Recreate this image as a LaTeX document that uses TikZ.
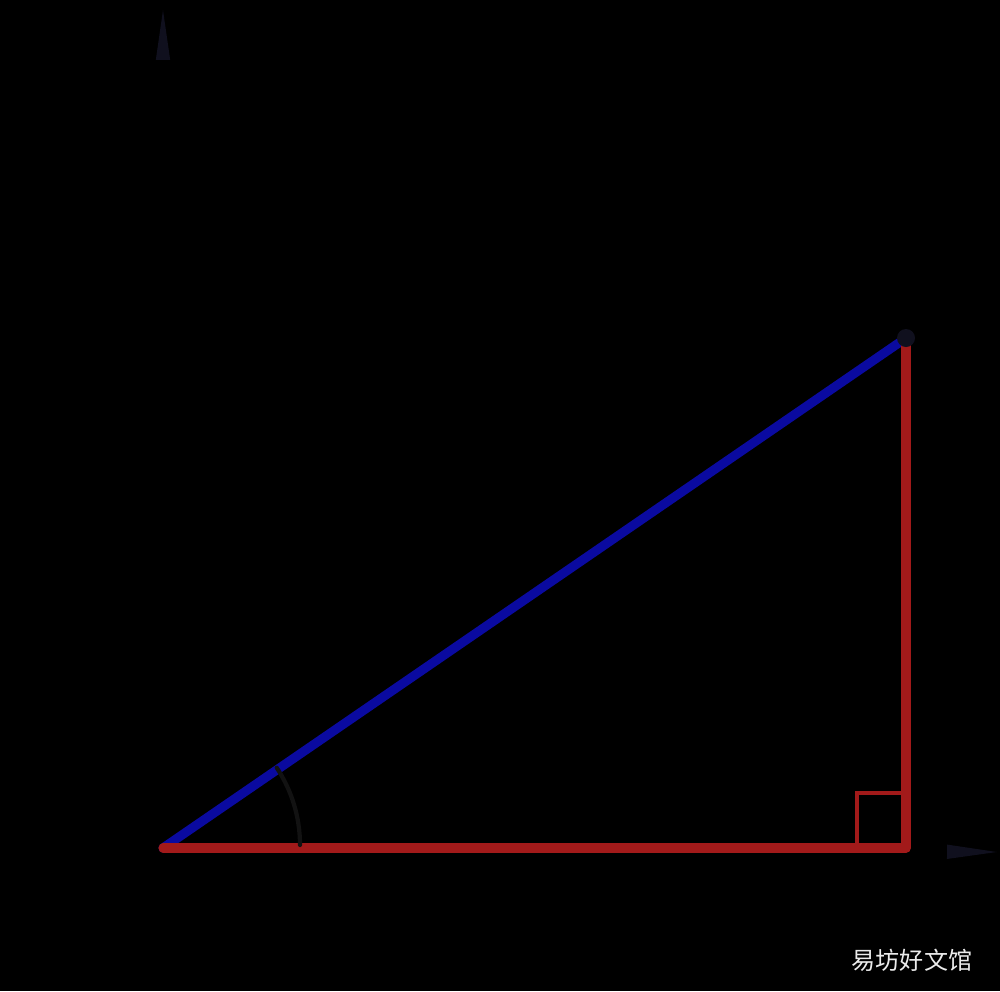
\documentclass[tikz,border=0pt]{standalone}
\usepackage{fontspec}
\usepackage{tikz}
\usetikzlibrary{arrows.meta}
\newfontfamily\cjk{Noto Sans CJK SC}
\definecolor{hypblue}{RGB}{10,10,160}
\definecolor{legred}{RGB}{162,26,26}
\definecolor{axisnavy}{RGB}{16,16,30}
\definecolor{arcgray}{RGB}{18,18,18}

\begin{document}
\begin{tikzpicture}[x=0.02cm,y=-0.02cm,
  axis/.style={black,thick,-{Triangle[length=1cm,width=0.28cm,color=axisnavy]}},
  side/.style={line width=5.2pt,line cap=round,line join=round}]
\fill[black] (0,0) rectangle (1000,991);
\useasboundingbox (0,0) rectangle (1000,991);

\coordinate (O) at (163,848);
\coordinate (A) at (906,848);
\coordinate (B) at (906,338);
\coordinate (yend) at (163,10);
\coordinate (xend) at (997,852);

\draw[axis] (O) -- (yend);
\draw[axis] (O) -- (xend);

\draw[side,hypblue] (O) -- (B);
\draw[side,legred] (O) -- (A) -- (B);
\draw[legred,line width=2.3pt] (857,848) -- (857,793) -- (906,793);

\draw[arcgray,line width=2.4pt,line cap=round] (300,845) arc[start angle=0,end angle=-33.5,radius=140];

\fill[axisnavy] (B) circle (9);

\node[text=white!92!black,font=\cjk\fontsize{13.7}{16}\selectfont] (wm) at (912,960) {易坊好文馆};
\end{tikzpicture}
\end{document}
